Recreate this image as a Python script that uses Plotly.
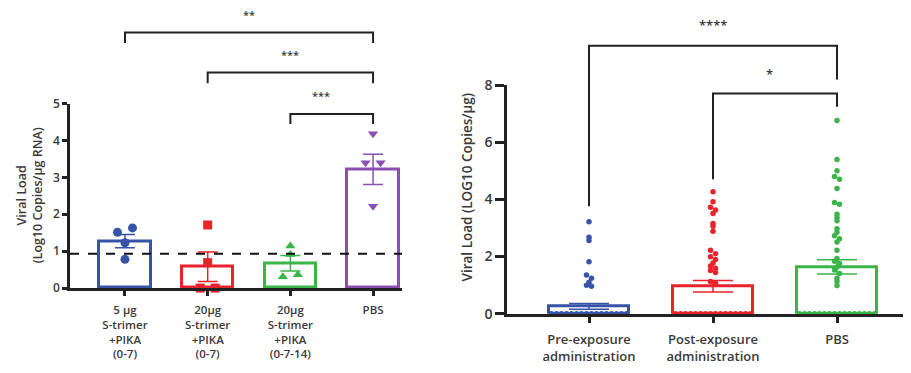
import plotly.graph_objects as go

WIN_W, WIN_H = 911, 373
OFF = 8                          # body margin of the page
W, H = WIN_W - 2 * OFF, WIN_H - 2 * OFF   # figure fits inside the window
V_SCALE, V_SHIFT = 0.954, 8.6    # observed vertical mapping of the capture
FONT = "Open Sans"
TXT = "#3a3a3a"
AX = "#222222"

# ---------------- data: left panel ----------------
left_labels = ["5 µg<br>S-trimer<br>+PIKA<br>(0-7)",
               "20µg<br>S-trimer<br>+PIKA<br>(0-7)",
               "20µg<br>S-trimer<br>+PIKA<br>(0-7-14)",
               "PBS"]
left_means = [1.27, 0.58, 0.67, 3.22]
left_sem = [0.18, 0.40, 0.21, 0.41]
left_g1 = [1.51, 1.63, 1.23, 0.78]
left_g2 = [1.71, 0.69, 0.0, 0.0]
left_g3 = [1.14, 0.91, 0.31, 0.36]
left_g4 = [4.18, 3.40, 3.40, 2.22]
left_cutoff = 0.93
left_yticks = [0, 1, 2, 3, 4, 5]
left_sig = [("**", 0, 3), ("***", 1, 3), ("***", 2, 3)]

# ---------------- data: right panel ----------------
right_labels = ["Pre-exposure<br>administration",
                "Post-exposure<br>administration",
                "PBS"]
right_means = [0.26, 0.96, 1.64]
right_sem = [0.10, 0.20, 0.25]
right_pre = [3.22, 2.68, 2.56, 1.82, 1.36, 1.24, 1.10, 1.00, 0.96,
             0.0, 0.0, 0.0, 0.0, 0.0, 0.0, 0.0, 0.0,
             0.0, 0.0, 0.0, 0.0, 0.0, 0.0, 0.0, 0.0]
right_post = [4.27, 3.92, 3.73, 3.63, 3.51, 3.16, 3.06, 2.89, 2.22, 2.10,
              1.99, 1.90, 1.78, 1.67, 1.59, 1.51, 1.44, 1.13, 1.07,
              0.0, 0.0, 0.0, 0.0, 0.0, 0.0, 0.0, 0.0,
              0.0, 0.0, 0.0, 0.0, 0.0, 0.0, 0.0, 0.0]
right_pbs = [6.76, 5.40, 5.00, 4.80, 4.71, 4.38, 3.89, 3.83, 3.48, 3.37,
             3.25, 2.97, 2.85, 2.73, 2.62, 2.51, 2.22, 1.93, 1.84, 1.76,
             1.64, 1.53, 1.41, 1.24, 1.13, 0.99,
             0.0, 0.0, 0.0, 0.0, 0.0, 0.0, 0.0, 0.0,
             0.0, 0.0, 0.0, 0.0, 0.0, 0.0, 0.0, 0.0]
right_yticks = [0, 2, 4, 6, 8]
right_sig = [("****", 0, 2), ("*", 1, 2)]

BLUE, RED, GREEN, PURPLE = "#3653a8", "#e8232b", "#3bb44a", "#8b4fb3"


# ---- window pixel -> paper helpers ----
def ty(y):
    return (y - V_SHIFT) / V_SCALE


def pxp(x):
    return (x - OFF) / W


def pyp(y):
    return 1 - (ty(y) - OFF) / H


# ---------------- layout geometry (window pixels) ----------------
L_X0, L_X1 = 70, 402
L_YB, L_YT = 290, 103
R_X0, R_X1 = 507, WIN_W - OFF
R_YB, R_YT = 316, 84.3
L_XR = [-0.665, 3.35]
R_CAT0, R_STEP = 589, 124
R_XR = [(R_X0 - R_CAT0) / R_STEP, (R_X1 - R_CAT0) / R_STEP]
L_YR = [0, 5]
R_YR = [0, 8]


def swarm(values, center, row_h, step):
    rows = {}
    for i, v in enumerate(values):
        rows.setdefault(int(v // row_h), []).append(i)
    xs = [0.0] * len(values)
    for idxs in rows.values():
        n = len(idxs)
        for k, i in enumerate(idxs):
            xs[i] = center + (k - (n - 1) / 2) * step
    return xs


fig = go.Figure()

# ---- left bars ----
left_colors = [BLUE, RED, GREEN, PURPLE]
for i, (m, s, c) in enumerate(zip(left_means, left_sem, left_colors)):
    fig.add_trace(go.Bar(
        x=[i], y=[m], width=0.62, xaxis="x", yaxis="y",
        marker=dict(color="rgba(255,255,255,0)", line=dict(color=c, width=3)),
        error_y=dict(type="data", array=[s], color=c, thickness=1.5, width=10),
        showlegend=False, hoverinfo="skip"))

l_rowh = 8 / ((L_YB - L_YT) / 5)
l_step = 15 / ((L_X1 - L_X0) / (L_XR[1] - L_XR[0]))
left_groups = [left_g1, left_g2, left_g3, left_g4]
left_symbols = ["circle", "square", "triangle-up", "triangle-down"]
for i, (vals, sym, c) in enumerate(zip(left_groups, left_symbols, left_colors)):
    fig.add_trace(go.Scatter(
        x=swarm(vals, i, l_rowh, l_step), y=vals, mode="markers",
        xaxis="x", yaxis="y", cliponaxis=False,
        marker=dict(symbol=sym, size=9, color=c),
        showlegend=False, hoverinfo="skip"))

# ---- right bars ----
right_colors = [BLUE, RED, GREEN]
for i, (m, s, c) in enumerate(zip(right_means, right_sem, right_colors)):
    fig.add_trace(go.Bar(
        x=[i], y=[m], width=0.64, xaxis="x2", yaxis="y2",
        marker=dict(color="rgba(255,255,255,0)", line=dict(color=c, width=3)),
        error_y=dict(type="data", array=[s], color=c, thickness=1.5, width=20),
        showlegend=False, hoverinfo="skip"))

r_rowh = 5 / ((R_YB - R_YT) / 8)
r_step = 5 / R_STEP
for i, (vals, c) in enumerate(zip([right_pre, right_post, right_pbs], right_colors)):
    fig.add_trace(go.Scatter(
        x=swarm(vals, i, r_rowh, r_step), y=vals, mode="markers",
        xaxis="x2", yaxis="y2", cliponaxis=False,
        marker=dict(symbol="circle", size=5.5, color=c),
        showlegend=False, hoverinfo="skip"))


axis_common = dict(showline=True, linecolor=AX, linewidth=2.5, ticks="outside",
                   tickcolor=AX, tickwidth=2.5, showgrid=False, zeroline=False,
                   fixedrange=True)

fig.update_layout(
    width=W, height=H, margin=dict(l=0, r=0, t=0, b=0),
    paper_bgcolor="white", plot_bgcolor="white", showlegend=False,
    font=dict(family=FONT, color=TXT),
    bargap=0, barmode="overlay",
    xaxis=dict(domain=[pxp(L_X0), pxp(L_X1)], range=L_XR, anchor="y",
               tickvals=list(range(len(left_labels))), ticktext=left_labels,
               ticklen=5, ticklabelstandoff=4,
               tickfont=dict(size=11.5, family=FONT, weight=600, color=TXT),
               **axis_common),
    yaxis=dict(domain=[pyp(L_YB), pyp(L_YT)], range=L_YR, anchor="x",
               tickvals=left_yticks, ticklen=5,
               tickfont=dict(size=12, family=FONT, weight=600, color=TXT),
               **axis_common),
    xaxis2=dict(domain=[pxp(R_X0), 1.0], range=R_XR, anchor="y2",
                tickvals=list(range(len(right_labels))), ticktext=right_labels,
                ticklen=7, ticklabelstandoff=5,
                tickfont=dict(size=13, family=FONT, weight=600, color=TXT),
                **axis_common),
    yaxis2=dict(domain=[pyp(R_YB), pyp(R_YT)], range=R_YR, anchor="x2",
                tickvals=right_yticks, ticklen=9,
                tickfont=dict(size=14, family=FONT, weight=600, color=TXT),
                **axis_common),
)

# cutoff dashed line
fig.add_shape(type="line", xref="x domain", yref="y", x0=0, x1=1,
              y0=left_cutoff, y1=left_cutoff,
              line=dict(color="#111111", width=2, dash="dash"))


def dom_x(v, rng):
    return (v - rng[0]) / (rng[1] - rng[0])


def bracket(xa, ya, rng_x, rng_y, a, b, top, leg_a, leg_b, label, label_y, fs):
    xd0, xd1 = dom_x(a, rng_x), dom_x(b, rng_x)
    f = lambda v: v / rng_y[1]
    path = (f"M {xd0},{f(leg_a)} L {xd0},{f(top)} L {xd1},{f(top)} L {xd1},{f(leg_b)}")
    fig.add_shape(type="path", path=path, xref=xa + " domain", yref=ya + " domain",
                  line=dict(color=AX, width=2))
    fig.add_annotation(text=label, x=(xd0 + xd1) / 2, y=f(label_y),
                       xref=xa + " domain", yref=ya + " domain",
                       showarrow=False, yanchor="middle",
                       font=dict(size=fs, color=TXT, family=FONT, weight=600))


# left brackets (levels in data units of the left y scale)
left_levels = [(6.93, 6.64, 7.42), (5.84, 5.55, 6.32), (4.72, 4.45, 5.22)]
for (lab, a, b), (top, leg, ly) in zip(left_sig, left_levels):
    bracket("x", "y", L_XR, L_YR, a, b, top, leg, leg, lab, ly, 11)

# right brackets
right_levels = [(9.38, 3.76, 8.20, 10.12), (7.71, 4.71, 7.24, 8.40)]
for (lab, a, b), (top, la, lb, ly) in zip(right_sig, right_levels):
    bracket("x2", "y2", R_XR, R_YR, a, b, top, la, lb, lab, ly, 13)

# axis titles
fig.add_annotation(text="Viral Load<br>(Log10 Copies/µg RNA)", textangle=-90,
                   x=pxp(29), y=pyp(196), xref="paper", yref="paper",
                   showarrow=False, xanchor="center", yanchor="middle",
                   font=dict(size=12.5, color=TXT, family=FONT, weight=600))
fig.add_annotation(text="Viral Load (LOG10 Copies/µg)", textangle=-90,
                   x=pxp(467), y=pyp(188), xref="paper", yref="paper",
                   showarrow=False, xanchor="center", yanchor="middle",
                   font=dict(size=13.5, color=TXT, family=FONT, weight=600))

fig.write_html("out.html")
